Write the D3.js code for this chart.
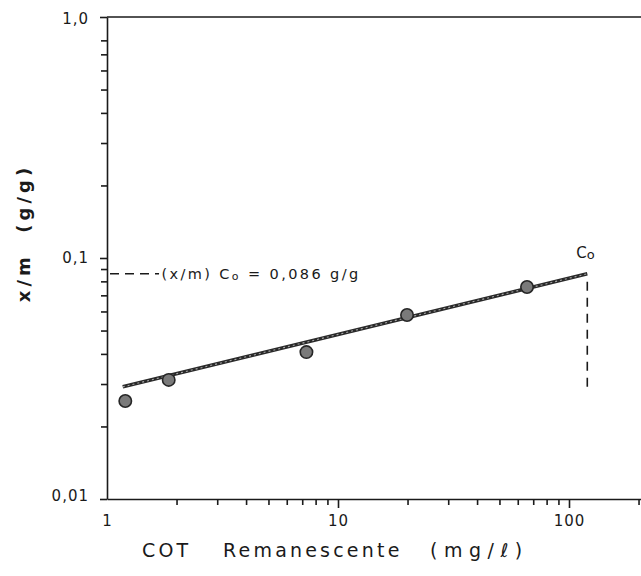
<!DOCTYPE html>
<html>
<head>
<meta charset="utf-8">
<script src="https://cdn.jsdelivr.net/npm/d3@7"></script>
<style>
  html, body { margin: 0; padding: 0; background: #fff; }
  svg { display: block; }
  text { font-family: "DejaVu Sans", sans-serif; fill: #1a1a1a; }
</style>
</head>
<body>
<svg id="chart" width="641" height="576"></svg>
<script>
// Remaining TOC (mg/l) and adsorbed amount x/m (g/g)
const cotValues = [1.2, 1.85, 7.3, 19.9, 65.8];
const xmValues  = [0.0255, 0.0312, 0.0407, 0.058, 0.0758];

// Fitted isotherm line endpoints
const fitCot = [1.17, 120];
const fitXm  = [0.0292, 0.086];

// Initial concentration Co and its x/m value
const coValue = 120;
const xmAtCo = 0.086;
const coDropTo = 0.0289;

// Axis ticks
const xMajorTicks = [1, 10, 100];
const xMajorLabels = ["1", "10", "100"];
const xMinorTicks = [2, 3, 4, 5, 6, 7, 8, 9, 20, 30, 40, 50, 60, 70, 80, 90, 200];
const yMajorTicks = [0.01, 0.1, 1];
const yMajorLabels = ["0,01", "0,1", "1,0"];
const yMinorTicks = [0.02, 0.03, 0.04, 0.05, 0.06, 0.07, 0.08, 0.09,
                     0.2, 0.3, 0.4, 0.5, 0.6, 0.7, 0.8];

const svg = d3.select("#chart");
const plotLeft = 107, plotTop = 17, plotBottom = 499;
const decade = 231;

const x = d3.scaleLog().domain([1, 250]).range([plotLeft, plotLeft + decade * Math.log10(250)]);
const y = d3.scaleLog().domain([0.01, 1]).range([plotBottom, plotTop]);

const ink = "#1a1a1a";

const xLabelOf = d => { const i = xMajorTicks.indexOf(d); return i < 0 ? "" : xMajorLabels[i]; };
const yLabelOf = d => { const i = yMajorTicks.indexOf(d); return i < 0 ? "" : yMajorLabels[i]; };

// X axis with major and minor ticks
const xAxis = svg.append("g").attr("class", "x-axis").attr("transform", `translate(0,${plotBottom})`)
  .call(d3.axisBottom(x).tickValues(xMajorTicks.concat(xMinorTicks))
    .tickSize(9).tickSizeOuter(0).tickPadding(7).tickFormat(xLabelOf));
xAxis.selectAll(".tick").filter(d => xMinorTicks.includes(d)).select("line").attr("y2", 6);
xAxis.selectAll(".tick").filter(d => d === 1).select("line").remove();

// Y axis with major and minor ticks
const yAxis = svg.append("g").attr("class", "y-axis").attr("transform", `translate(${plotLeft},0)`)
  .call(d3.axisLeft(y).tickValues(yMajorTicks.concat(yMinorTicks))
    .tickSize(7).tickSizeOuter(0).tickPadding(11).tickFormat(yLabelOf));
yAxis.selectAll(".tick").filter(d => yMinorTicks.includes(d)).select("line").attr("x2", -6);
yAxis.selectAll(".tick").filter(d => d === 0.01).select("text").attr("dy", "0.1em");
yAxis.selectAll(".tick").filter(d => d === 1).select("text").attr("dy", "0.45em");

[xAxis, yAxis].forEach(g => {
  g.selectAll(".domain").attr("stroke", ink).attr("stroke-width", 1.6);
  g.selectAll(".tick line").attr("stroke", ink).attr("stroke-width", 1.6);
  g.selectAll(".tick text").attr("font-size", 15).attr("fill", ink)
    .attr("letter-spacing", 1).style("font-family", "DejaVu Sans, sans-serif");
});

// Top border of the frame
svg.append("line")
  .attr("x1", x(1)).attr("x2", x(250))
  .attr("y1", y(1)).attr("y2", y(1))
  .attr("stroke", ink).attr("stroke-width", 1.6);

// Fitted line: dark body with lighter speckled core
const fit = fitCot.map((c, i) => ({ c, v: fitXm[i] }));
const lineGen = d3.line().x(d => x(d.c)).y(d => y(d.v));
svg.append("path").datum(fit).attr("d", lineGen)
  .attr("fill", "none").attr("stroke", "#2a2a2a").attr("stroke-width", 3.6);
svg.append("path").datum(fit).attr("d", lineGen)
  .attr("fill", "none").attr("stroke", "#a8a8a8").attr("stroke-width", 1.1)
  .attr("stroke-dasharray", "2,3");

// Measured points
const pts = cotValues.map((c, i) => ({ c, v: xmValues[i] }));
svg.selectAll("circle.pt").data(pts).join("circle")
  .attr("class", "pt")
  .attr("cx", d => x(d.c)).attr("cy", d => y(d.v)).attr("r", 6.2)
  .attr("fill", "#7a7a7a").attr("stroke", "#262626").attr("stroke-width", 1.6);

// Dashed reference lines at Co
svg.append("line")
  .attr("x1", x(1) + 3).attr("x2", x(1.68))
  .attr("y1", y(xmAtCo)).attr("y2", y(xmAtCo))
  .attr("stroke", ink).attr("stroke-width", 1.4).attr("stroke-dasharray", "9,6");
svg.append("line")
  .attr("x1", x(coValue)).attr("x2", x(coValue))
  .attr("y1", y(xmAtCo) + 8).attr("y2", y(coDropTo))
  .attr("stroke", ink).attr("stroke-width", 1.6).attr("stroke-dasharray", "9,7");

// Annotation for the x/m value at Co
const ann = svg.append("text")
  .attr("x", x(1.72)).attr("y", y(xmAtCo) + 5)
  .attr("font-size", 14.5).attr("letter-spacing", 2.4);
ann.append("tspan").text("(x/m) C");
ann.append("tspan").attr("font-size", 11).attr("dy", 1).text("o");
ann.append("tspan").attr("dy", -1).text(" = 0,086 g/g");

// Co label above the end of the line
const coLab = svg.append("text")
  .attr("x", x(coValue) - 11).attr("y", y(xmAtCo) - 16)
  .attr("font-size", 15);
coLab.append("tspan").text("C");
coLab.append("tspan").attr("font-size", 13).attr("dy", 1).text("o");

// Axis titles
const xTitle = svg.append("g").attr("font-size", 19).attr("letter-spacing", 3.2);
xTitle.append("text").attr("x", 142).attr("y", 557).text("COT");
xTitle.append("text").attr("x", 223).attr("y", 557).text("Remanescente");
xTitle.append("text").attr("x", 430).attr("y", 557).attr("letter-spacing", 6.5).text("(mg/ℓ)");

svg.append("text")
  .attr("transform", "translate(30,233) rotate(-90)")
  .attr("text-anchor", "middle")
  .attr("font-size", 18).attr("font-weight", 600).attr("letter-spacing", 4)
  .attr("xml:space", "preserve")
  .text("x/m  (g/g)");
</script>
</body>
</html>
